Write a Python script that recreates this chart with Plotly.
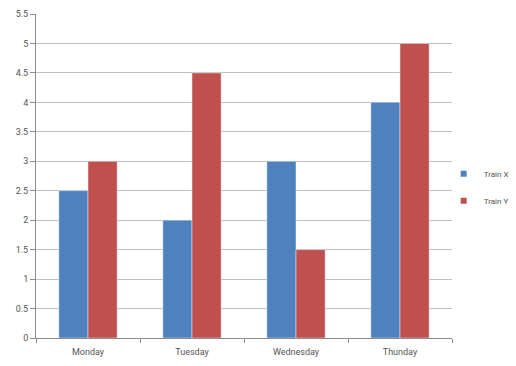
import plotly.graph_objects as go

categories = ["Monday", "Tuesday", "Wednesday", "Thunday"]
train_x = [2.5, 2, 3, 4]
train_y = [3, 4.5, 1.5, 5]
y_ticks = [0, 0.5, 1, 1.5, 2, 2.5, 3, 3.5, 4, 4.5, 5, 5.5]
series = [("Train X", train_x, "#4F81BD"), ("Train Y", train_y, "#C0504D")]

fig = go.Figure()
for name, vals, col in series:
    fig.add_trace(go.Bar(name=name, x=categories, y=vals, marker_color=col,
                         showlegend=False))
for i, (name, vals, col) in enumerate(series):
    fig.add_trace(go.Scatter(name=name, x=[None], y=[None], mode="markers",
                             marker=dict(symbol="square", size=6, color=col),
                             legendgroup=str(i), showlegend=True))

fig.update_layout(
    width=516, height=366,
    margin=dict(l=36, r=64, t=14, b=28, autoexpand=False),
    paper_bgcolor="white", plot_bgcolor="white",
    barmode="group", bargap=0.44, bargroupgap=0,
    font=dict(family="Roboto", size=8, color="#555555"),
    legend=dict(x=0.98, y=0.465, xanchor="left", yanchor="middle",
                bgcolor="rgba(0,0,0,0)",
                font=dict(size=8, color="#555555"), tracegroupgap=8,
                itemwidth=30),
    showlegend=True,
)
fig.update_yaxes(range=[0, 5.5], tickvals=y_ticks,
                 ticktext=[("%g" % v) for v in y_ticks],
                 showgrid=True, gridcolor="#BFBFBF", gridwidth=1,
                 showline=True, linecolor="#8C8C8C", ticks="outside",
                 ticklen=5, tickcolor="#8C8C8C", zeroline=False,
                 tickfont=dict(size=9))
fig.update_xaxes(showline=True, linecolor="#8C8C8C", ticks="outside",
                 tickson="boundaries", ticklen=4, tickcolor="#8C8C8C",
                 showgrid=False, tickfont=dict(size=9), ticklabelstandoff=5)

fig.write_html("out.html")
